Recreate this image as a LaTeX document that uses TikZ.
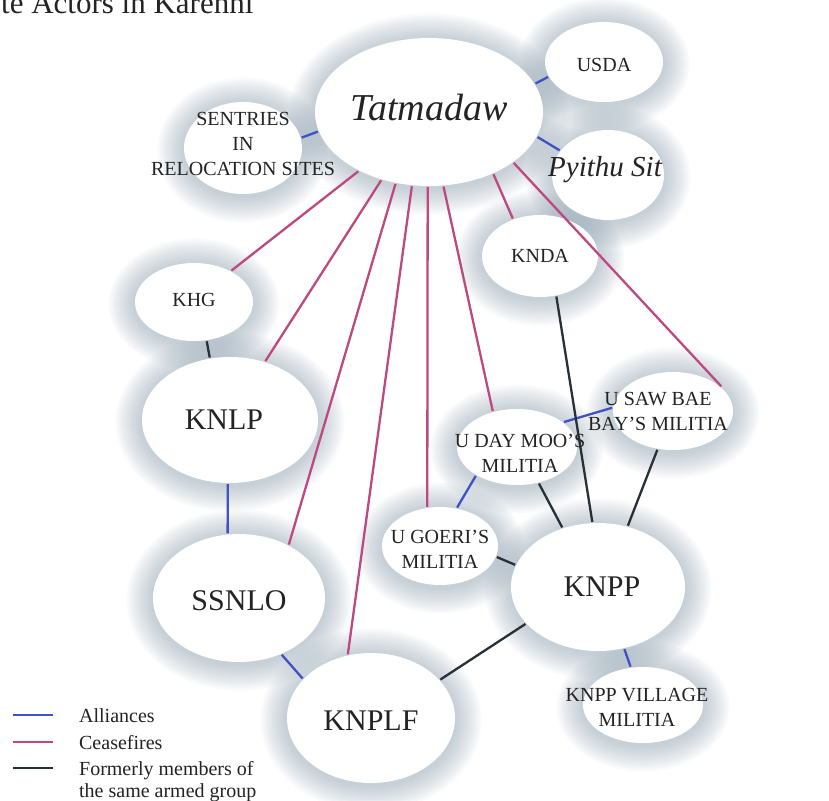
\documentclass[tikz,border=0pt]{standalone}
\usepackage{fontspec}
\setmainfont{Liberation Serif}
\usepackage{tikz}
\usetikzlibrary{shapes.geometric}

\definecolor{allyblue}{RGB}{62,82,196}
\definecolor{truce}{RGB}{190,72,128}
\definecolor{former}{RGB}{38,48,54}
\definecolor{glow}{RGB}{130,152,168}
\definecolor{ink}{RGB}{35,35,35}

\begin{document}
\begin{tikzpicture}[x=1pt,y=-1pt,line width=2.3pt]
    \tikzstyle{actor}=[ellipse,fill=white,inner sep=0pt]
    \tikzstyle{small name}=[text=ink,align=center,font=\fontsize{20}{25}\selectfont]
    \tikzstyle{big name}=[text=ink,font=\fontsize{30}{32}\selectfont]
    \tikzstyle{alliance}=[draw=allyblue]
    \tikzstyle{ceasefire}=[draw=truce]
    \tikzstyle{formerly}=[draw=former]
    \tikzstyle{annot}=[text=ink,anchor=base west,inner sep=0pt,font=\fontsize{20}{22}\selectfont]

    \useasboundingbox (0,0) rectangle (829,800);
    \fill[white] (0,0) rectangle (829,800);

    % Title, cut by the top edge
    \node[anchor=base west,inner sep=0pt,text=ink,font=\fontsize{31}{31}\selectfont] (title) at (0,14) {te Actors in Karenni};

    % Soft glow under every actor
    \foreach \x/\y/\w/\h in {429/112/228/148, 604/62/118/80, 608/175/112/90, 243/148/118/92,
                             194/302/118/78, 540/256/116/82, 230/420/176/126, 673/411/120/78,
                             517/447/120/76, 440/546/116/78, 598/587/174/128, 239/598/172/128,
                             371/718/168/130, 643/705/120/76}
        \foreach \k in {1,...,12}
            \fill[glow,opacity=0.045] (\x,\y+2) ellipse ({\w*0.5pt+\k*2.2pt} and {\h*0.5pt+\k*2.2pt});

    % Draw the actors
    \node[actor,minimum width=228pt,minimum height=148pt,
          label={[text=ink,yshift=4pt,font=\fontsize{38}{40}\selectfont\itshape]center:Tatmadaw}] (tat) at (429,112) {};
    \node[actor,minimum width=118pt,minimum height=80pt,
          label={[small name,yshift=-3pt]center:USDA}] (usda) at (604,62) {};
    \node[actor,minimum width=112pt,minimum height=90pt,
          label={[text=ink,xshift=-3pt,yshift=5pt,font=\fontsize{29}{30}\selectfont\itshape]center:Pyithu Sit}] (pyi) at (608,175) {};
    \node[actor,minimum width=118pt,minimum height=92pt,
          label={[small name,yshift=4pt]center:SENTRIES\\IN\\RELOCATION SITES}] (sent) at (243,148) {};
    \node[actor,minimum width=118pt,minimum height=78pt,
          label={[small name,yshift=2pt]center:KHG}] (khg) at (194,302) {};
    \node[actor,minimum width=116pt,minimum height=82pt,
          label={[small name]center:KNDA}] (knda) at (540,256) {};
    \node[actor,minimum width=176pt,minimum height=126pt,
          label={[big name,xshift=-6pt]center:KNLP}] (knlp) at (230,420) {};
    \node[actor,minimum width=120pt,minimum height=78pt,
          label={[small name,xshift=-15pt]center:U SAW BAE\\BAY'S MILITIA}] (usaw) at (673,411) {};
    \node[actor,minimum width=120pt,minimum height=76pt,
          label={[small name,xshift=3pt,yshift=-6pt]center:U DAY MOO'S\\MILITIA}] (uday) at (517,447) {};
    \node[actor,minimum width=116pt,minimum height=78pt,
          label={[small name,yshift=-3pt]center:U GOERI'S\\MILITIA}] (ugoe) at (440,546) {};
    \node[actor,minimum width=174pt,minimum height=128pt,
          label={[big name,xshift=4pt]center:KNPP}] (knpp) at (598,587) {};
    \node[actor,minimum width=172pt,minimum height=128pt,
          label={[big name,yshift=-3pt]center:SSNLO}] (ssnlo) at (239,598) {};
    \node[actor,minimum width=168pt,minimum height=130pt,
          label={[big name,yshift=-3pt]center:KNPLF}] (knplf) at (371,718) {};
    \node[actor,minimum width=120pt,minimum height=76pt,
          label={[small name,xshift=-6pt,yshift=-2pt]center:KNPP VILLAGE\\MILITIA}] (knpv) at (643,705) {};

    % Ceasefires with the Tatmadaw
    \foreach \a/\b in {tat.220/khg.40, tat.235/knlp.59, tat.245/ssnlo.47, tat.257/knplf.110,
                       tat.269/ugoe.108, tat.281/uday.124, tat.316/knda.126, tat.329/usaw.27}
        \draw[ceasefire] (\a) -- (\b);

    % Alliances
    \foreach \a/\b in {tat.15/usda.195, tat.347/pyi.153, tat.190/sent.10, knlp.268/ssnlo.100,
                       ssnlo.307/knplf.150, uday.215/ugoe.66, uday.28/usaw.177, knpp.293/knpv.108}
        \draw[alliance] (\a) -- (\b);

    % Formerly members of the same armed group
    \foreach \a/\b in {khg.288/knlp.108, knda.292/knpp.95, uday.301/knpp.121,
                       usaw.248/knpp.64, ugoe.349/knpp.165, knplf.29/knpp.207}
        \draw[formerly] (\a) -- (\b);

    % Legend
    \coordinate (al-a) at (13,715); \coordinate (al-b) at (53,715);
    \coordinate (cf-a) at (13,742); \coordinate (cf-b) at (53,742);
    \coordinate (fm-a) at (13,768); \coordinate (fm-b) at (53,768);
    \draw[alliance,line width=2.6pt] (al-a) -- (al-b);
    \draw[ceasefire,line width=2.6pt] (cf-a) -- (cf-b);
    \draw[formerly,line width=2.6pt] (fm-a) -- (fm-b);
    \node[annot] (al-t) at (78,722) {Alliances};
    \node[annot] (cf-t) at (78,749) {Ceasefires};
    \node[annot] (fm-t) at (78,775) {Formerly members of};
    \node[annot] (fm-t2) at (78,797) {the same armed group};
\end{tikzpicture}
\end{document}
